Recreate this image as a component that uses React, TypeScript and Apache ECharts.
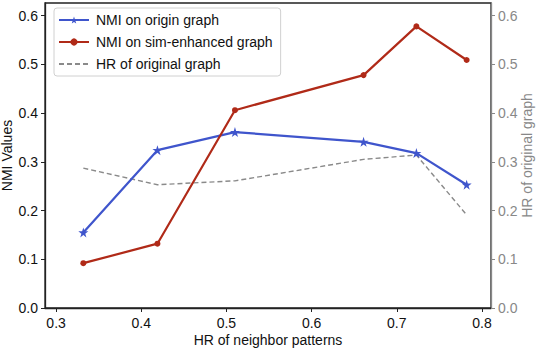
import React, { useEffect, useRef } from "react";
import * as echarts from "echarts";

const xValues = [0.332, 0.419, 0.51, 0.661, 0.723, 0.782];
const nmiOrigin = [0.155, 0.324, 0.361, 0.341, 0.318, 0.253];
const nmiSim = [0.092, 0.132, 0.406, 0.478, 0.578, 0.509];
const hrOriginal = [0.287, 0.253, 0.261, 0.305, 0.314, 0.191];
const xTicks = [0.3, 0.4, 0.5, 0.6, 0.7, 0.8];
const yTicks = [0, 0.1, 0.2, 0.3, 0.4, 0.5, 0.6];

const FONT = "Liberation Sans, Arial, Helvetica, sans-serif";
const STAR = "path://M50,0 L61.8,35.4 L99,35.4 L69,57.3 L80.4,92.7 L50,70.8 L19.6,92.7 L31,57.3 L1,35.4 L38.2,35.4 Z";

export default function App() {
  const ref = useRef<HTMLDivElement>(null);
  useEffect(() => {
    if (!ref.current) return;
    const chart = echarts.init(ref.current, undefined, { renderer: "svg" });
    const pair = (ys: number[]) => xValues.map((x, i) => [x, ys[i]]);
    chart.setOption({
      animation: false,
      textStyle: { fontFamily: FONT },
      grid: {
        left: 45,
        right: 49,
        top: 3,
        bottom: 40,
        outerBoundsMode: "none",
        containLabel: false,
        show: true,
        borderColor: "#222",
        borderWidth: 1.3,
        backgroundColor: "#fff",
      },
      legend: {
        orient: "vertical",
        left: 54,
        top: 8,
        padding: [5, 8, 5, 4],
        itemGap: 8,
        itemWidth: 30,
        itemHeight: 9,
        borderColor: "#d0d0d0",
        borderWidth: 1,
        borderRadius: 3,
        textStyle: { fontFamily: FONT, fontSize: 14, color: "#111", padding: [0, 0, 0, 2] },
        data: [
          { name: "NMI on origin graph" },
          { name: "NMI on sim-enhanced graph" },
          { name: "HR of original graph", itemStyle: { color: "transparent", opacity: 0 } },
        ],
      },
      xAxis: {
        type: "value",
        min: 0.287,
        max: 0.8106,
        name: "HR of neighbor patterns",
        nameLocation: "middle",
        nameGap: 25,
        nameMoveOverlap: false,
        nameTextStyle: { fontFamily: FONT, fontSize: 14, color: "#111" },
        axisLine: { show: true, lineStyle: { color: "#222", width: 1.3 } },
        axisTick: { show: true, length: 4, customValues: xTicks, lineStyle: { color: "#222" } },
        axisLabel: {
          customValues: xTicks,
          fontFamily: FONT,
          fontSize: 14,
          color: "#111",
          margin: 8,
          formatter: (v: number) => v.toFixed(1),
        },
        splitLine: { show: false },
      },
      yAxis: [
        {
          type: "value",
          min: 0,
          max: 0.626,
          position: "left",
          name: "NMI Values",
          nameLocation: "middle",
          nameRotate: 90,
          nameGap: 31,
          nameMoveOverlap: false,
          nameTextStyle: { fontFamily: FONT, fontSize: 14, color: "#111" },
          axisLine: { show: true, lineStyle: { color: "#222", width: 1.3 } },
          axisTick: { show: true, length: 4, customValues: yTicks, lineStyle: { color: "#222" } },
          axisLabel: {
            customValues: yTicks,
            fontFamily: FONT,
            fontSize: 14,
            color: "#111",
            margin: 7,
            formatter: (v: number) => v.toFixed(1),
          },
          splitLine: { show: false },
        },
        {
          type: "value",
          min: 0,
          max: 0.626,
          position: "right",
          name: "HR of original graph",
          nameLocation: "middle",
          nameRotate: 90,
          nameGap: 29,
          nameMoveOverlap: false,
          nameTextStyle: { fontFamily: FONT, fontSize: 14, color: "#888" },
          axisLine: { show: true, lineStyle: { color: "#888", width: 1.3 } },
          axisTick: { show: true, length: 4, customValues: yTicks, lineStyle: { color: "#888" } },
          axisLabel: {
            customValues: yTicks,
            fontFamily: FONT,
            fontSize: 14,
            color: "#888",
            margin: 7,
            formatter: (v: number) => v.toFixed(1),
          },
          splitLine: { show: false },
        },
      ],
      series: [
        {
          name: "NMI on origin graph",
          type: "line",
          yAxisIndex: 0,
          data: pair(nmiOrigin),
          symbol: STAR,
          symbolSize: 10,
          itemStyle: { color: "#3f55cc" },
          lineStyle: { color: "#3f55cc", width: 2.2 },
          z: 3,
        },
        {
          name: "NMI on sim-enhanced graph",
          type: "line",
          yAxisIndex: 0,
          data: pair(nmiSim),
          symbol: "circle",
          symbolSize: 6,
          itemStyle: { color: "#b02a18" },
          lineStyle: { color: "#b02a18", width: 2.2 },
          z: 4,
        },
        {
          name: "HR of original graph",
          type: "line",
          yAxisIndex: 1,
          data: pair(hrOriginal),
          symbol: "none",
          itemStyle: { color: "#8a8a8a" },
          lineStyle: { color: "#8a8a8a", width: 1.4, type: [5, 3] },
          z: 2,
        },
      ],
    });
    return () => chart.dispose();
  }, []);
  return (
    <div
      ref={ref}
      style={{ position: "fixed", left: 0, top: 0, width: 540, height: 348, background: "#fff" }}
    />
  );
}
